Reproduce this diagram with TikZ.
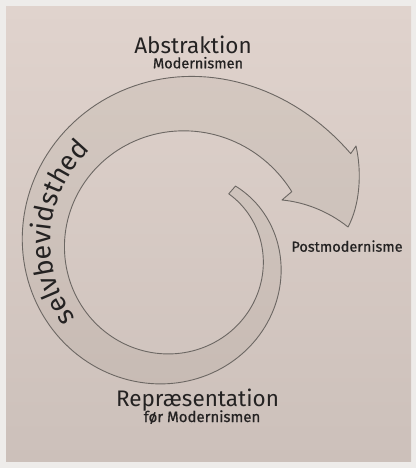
\documentclass[tikz,border=0pt]{standalone}
\usepackage{fontspec}
\setmainfont{Fira Sans}
\newfontfamily\smallfont[FakeBold=0.8]{Fira Sans}
\usetikzlibrary{decorations.text}
\definecolor{pagewhite}{RGB}{238,236,234}
\definecolor{papertop}{RGB}{224,211,205}
\definecolor{paperbot}{RGB}{204,192,186}
\definecolor{edgecol}{RGB}{108,103,99}
\definecolor{ink}{RGB}{36,34,34}
\definecolor{bandtint}{RGB}{110,105,85}
\begin{document}
\begin{tikzpicture}[x=1pt,y=-1pt,
  band/.style={draw=edgecol, line width=0.9pt, fill=bandtint, fill opacity=0.08, line join=round},
  lab/.style={text=ink, inner sep=0pt, anchor=base},
]
\useasboundingbox (0,0) rectangle (416,468);
\fill[pagewhite] (0,0) rectangle (416,468);
\shade[top color=papertop, bottom color=paperbot] (6,7) rectangle (411,461);

% spiral arrow band
\draw[band]
  plot[domain=-49:331.5, samples=160, variable=\t]
    ({176+(87+0.135*(\t))*cos(\t)},{254.5+(87+0.135*(\t))*sin(\t)})
  -- (282,200) .. controls (304,202) and (328,211) .. (348,227)
  .. controls (360,205) and (362,172) .. (356,146)
  -- plot[domain=330:-49, samples=160, variable=\t]
    ({176+(104+0.272*(\t)+8*(max(0,((\t)-270)/60))^3)*cos(\t)},{254.5+(104+0.272*(\t)+8*(max(0,((\t)-270)/60))^3)*sin(\t)})
  -- cycle;

% curved label
\path[decorate, decoration={text along path, text color=ink,
    text={|\fontsize{27}{27}\selectfont|selvbevidsthed}, text align=center}]
  plot[domain=125:250, samples=80, variable=\t]
    ({176+(88.5+0.2035*(\t))*cos(\t)},{254.5+(88.5+0.2035*(\t))*sin(\t)});

\node[lab, font=\fontsize{22.5}{22.5}\selectfont] (abs) at (193,53.3) {Abstraktion};
\node[lab, font=\smallfont\fontsize{14.5}{14.5}\selectfont] (mod) at (198,68.3) {Modernismen};
\node[lab, font=\smallfont\fontsize{14.5}{14.5}\selectfont] (post) at (347,251.7) {Postmodernisme};
\node[lab, font=\fontsize{22.5}{22.5}\selectfont] (rep) at (197.5,406.7) {Repræsentation};
\node[lab, font=\smallfont\fontsize{15}{15}\selectfont] (for) at (202,422) {før Modernismen};
\end{tikzpicture}
\end{document}
